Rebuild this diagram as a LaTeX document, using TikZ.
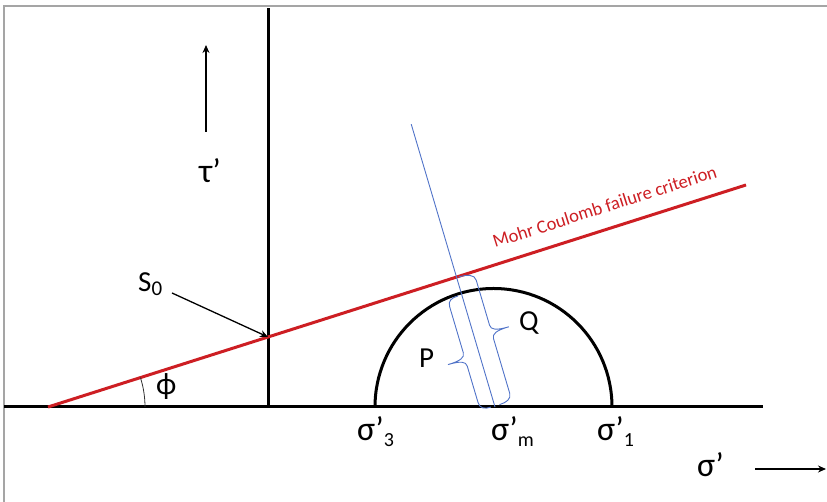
\documentclass[tikz,border=0pt]{standalone}
\usepackage{fontspec}
\setmainfont{Carlito}
\usetikzlibrary{arrows.meta}
\definecolor{mcred}{RGB}{205,30,35}
\definecolor{mcblue}{RGB}{80,115,200}
\definecolor{framegray}{RGB}{165,165,165}
\newcommand\fsz[1]{\fontsize{#1}{#1}\selectfont}
\begin{document}
\begin{tikzpicture}[x=1pt,y=1pt,
  axisline/.style={line width=3pt,black},
  redline/.style={line width=3pt,mcred},
  blueline/.style={line width=0.9pt,mcblue},
  thinarrow/.style={line width=1.4pt,-{Stealth[length=8pt,width=7pt]}},
  lbl/.style={inner sep=0pt,anchor=base west}]
\useasboundingbox (0,0) rectangle (827,502);
% frame
\draw[framegray,line width=1.3pt] (4,0) -- (4,496) -- (827,496);
% coordinates
\coordinate (hL) at (4,95);
\coordinate (hR) at (763,95);
\coordinate (vB) at (268,95);
\coordinate (vT) at (268,494);
\coordinate (rA) at (48,95);
\coordinate (rB) at (746,317);
\coordinate (s0tip) at (268,165);
\coordinate (s0from) at (172,209);
\coordinate (c1) at (612,95);
\coordinate (tauA) at (206,370);
\coordinate (tauB) at (206,457);
\coordinate (sigA) at (755,33);
\coordinate (sigB) at (826,33);
% axes
\draw[axisline] (hL) -- (hR);
\draw[axisline] (vB) -- (vT);
% Mohr circle
\draw[line width=3pt] (c1) arc[start angle=0,end angle=180,radius=118.5];
% failure line
\draw[redline] (rA) -- (rB);
% angle arc
\draw[line width=0.8pt,black!80] (145,95) arc[start angle=0,end angle=17.65,radius=97];
% arrows
\draw[line width=1.3pt,-{Stealth[length=8pt,width=7pt]}] (s0from) -- (s0tip);
\draw[thinarrow] (tauA) -- (tauB);
\draw[thinarrow] (sigA) -- (sigB);
% blue normal and braces
\begin{scope}[shift={(495,95)},rotate=16.5]
  \coordinate (nB) at (0,0);
  \coordinate (nT) at (0,295);
  \draw[blueline] (nB) -- (nT);
  \draw[blueline] (-4,117) .. controls (-11,117) and (-15,115) .. (-15,109) -- (-15,61)
     .. controls (-15,56) and (-20,54) .. (-33,54)
     .. controls (-20,54) and (-15,52) .. (-15,47) -- (-15,9)
     .. controls (-15,3) and (-11,1) .. (-4,1);
  \draw[blueline] (2,135) .. controls (11,135) and (18,133) .. (18,127) -- (18,80)
     .. controls (18,75) and (23,73) .. (36,73)
     .. controls (23,73) and (18,71) .. (18,66) -- (18,9)
     .. controls (18,3) and (12,1) .. (5,1);
\end{scope}
% labels
\node[lbl,text=mcred,rotate=17.65] (mc) at (495,254) {\fsz{18.5}Mohr Coulomb failure criterion};
\node[lbl] (S0) at (138,210) {\fsz{29}S\raisebox{-4pt}{\fsz{21}0}};
\node[lbl] (phi) at (156,107) {\fsz{31}ϕ};
\node[lbl] (tau) at (199,319) {\fsz{34}τ’};
\node[lbl] (P) at (419,134) {\fsz{29}P};
\node[lbl] (Q) at (519,171) {\fsz{29}Q};
\node[lbl] (s3) at (357,61) {\fsz{34}σ’\raisebox{-6pt}{\fsz{20}3}};
\node[lbl] (sm) at (491,61) {\fsz{34}σ’\raisebox{-6pt}{\fsz{20}m}};
\node[lbl] (s1) at (597,61) {\fsz{34}σ’\raisebox{-6pt}{\fsz{20}1}};
\node[lbl] (sig) at (697,25) {\fsz{34}σ’};
\end{tikzpicture}
\end{document}
